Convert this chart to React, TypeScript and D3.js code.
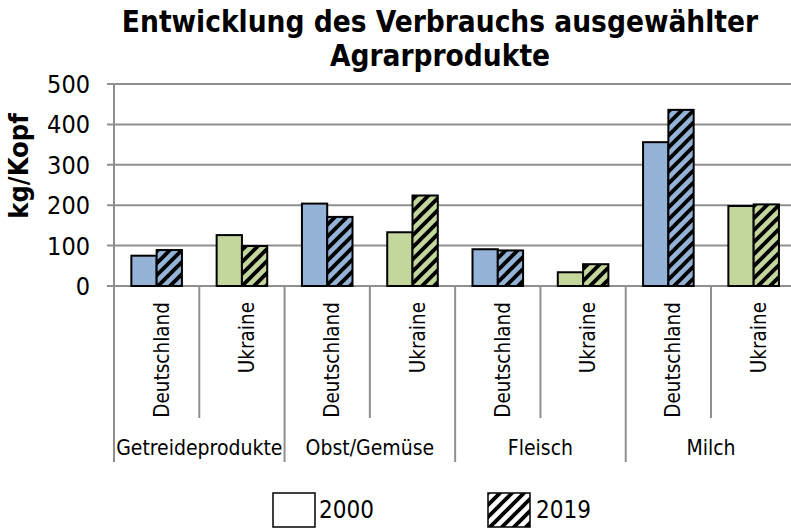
import React from "react";
import * as d3 from "d3";

const groups = ["Getreideprodukte", "Obst/Gemüse", "Fleisch", "Milch"];
const countries = ["Deutschland", "Ukraine"];
const years = ["2000", "2019"];
const values2000 = [75, 126, 204, 133, 91, 34, 356, 198];
const values2019 = [89, 99, 171, 224, 88, 54, 436, 202];
const yTicks = [0, 100, 200, 300, 400, 500];
const countryColors = ["#95B3D7", "#C3D69B"];

const W = 791;
const H = 528;
const FONT = "'DejaVu Sans Condensed', 'Liberation Sans', sans-serif";

export default function App() {
  const slots = groups.flatMap((g) => countries.map((c) => `${g}|${c}`));
  const x0 = d3.scaleBand<string>().domain(slots).range([114, 796.3]).paddingInner(0).paddingOuter(0);
  const x1 = d3.scaleBand<string>().domain(years).range([0, x0.bandwidth()]).paddingInner(0).paddingOuter(0.686);
  const y = d3.scaleLinear().domain([0, 500]).range([286, 84]);
  const gx = d3.scaleBand<string>().domain(groups).range([114, 796.3]);

  const series = [values2000, values2019];
  const grid = "#8f8f8f";

  return (
    <div style={{ position: "fixed", left: 0, top: 0 }}>
      <svg width={W} height={H} style={{ display: "block", background: "#fff" }}>
        <defs>
          {countryColors.map((col, i) => (
            <pattern key={i} id={`hatch${i}`} patternUnits="userSpaceOnUse" width={12} height={12}>
              <rect width={12} height={12} fill={col} />
              <path d="M-3,3 L3,-3 M0,12 L12,0 M9,15 L15,9" stroke="#000" strokeWidth={3.8} />
            </pattern>
          ))}
          <pattern id="hatchW" patternUnits="userSpaceOnUse" width={12} height={12} x={488} y={493}>
            <rect width={12} height={12} fill="#fff" />
            <path d="M-3,3 L3,-3 M0,12 L12,0 M9,15 L15,9" stroke="#000" strokeWidth={3.8} />
          </pattern>
        </defs>

        {/* title */}
        <text x={440} y={32} textAnchor="middle" fontFamily={FONT} fontWeight="bold" fontSize={29.5} fill="#000">
          Entwicklung des Verbrauchs ausgewählter
        </text>
        <text x={440} y={66} textAnchor="middle" fontFamily={FONT} fontWeight="bold" fontSize={29.5} fill="#000">
          Agrarprodukte
        </text>

        {/* y axis title */}
        <text
          transform={`translate(28,166) rotate(-90)`}
          textAnchor="middle"
          fontFamily={FONT}
          fontWeight="bold"
          fontSize={27}
          fill="#000"
        >
          kg/Kopf
        </text>

        {/* gridlines and ticks */}
        {yTicks.map((t) => (
          <g key={t}>
            <line x1={107} x2={W} y1={y(t)} y2={y(t)} stroke={grid} strokeWidth={2} />
            <text
              x={90}
              y={y(t)}
              dy="0.36em"
              textAnchor="end"
              fontFamily={FONT}
              fontSize={25}
              fill="#000"
            >
              {t}
            </text>
          </g>
        ))}
        <line x1={114} x2={114} y1={y(500)} y2={286} stroke={grid} strokeWidth={2} />

        {/* bars */}
        {slots.map((s, i) =>
          years.map((yr, j) => {
            const v = series[j][i];
            const ci = i % 2;
            return (
              <rect
                key={`${s}-${yr}`}
                x={(x0(s) as number) + (x1(yr) as number)}
                y={y(v)}
                width={x1.bandwidth()}
                height={y(0) - y(v)}
                fill={j === 0 ? countryColors[ci] : `url(#hatch${ci})`}
                stroke="#000"
                strokeWidth={2}
              />
            );
          })
        )}

        {/* category separators */}
        {slots.map((s, i) => {
          const xl = x0(s) as number;
          const isGroupStart = i % 2 === 0;
          return (
            <line
              key={`sep${s}`}
              x1={xl}
              x2={xl}
              y1={286}
              y2={isGroupStart ? 462 : 418}
              stroke={grid}
              strokeWidth={2}
            />
          );
        })}
        <line x1={796.3} x2={796.3} y1={286} y2={462} stroke={grid} strokeWidth={2} />

        {/* country labels */}
        {slots.map((s, i) => {
          const cx = (x0(s) as number) + x0.bandwidth() / 2 + 12;
          return (
            <text
              key={`lab${s}`}
              transform={`translate(${cx},302) rotate(-90)`}
              textAnchor="end"
              fontFamily={FONT}
              fontSize={20.5}
              fill="#000"
            >
              {countries[i % 2]}
            </text>
          );
        })}

        {/* group labels */}
        {groups.map((g) => (
          <text
            key={g}
            x={(gx(g) as number) + gx.bandwidth() / 2}
            y={455}
            textAnchor="middle"
            fontFamily={FONT}
            fontSize={21}
            fill="#000"
          >
            {g}
          </text>
        ))}

        {/* legend */}
        <rect x={273} y={493} width={42} height={34} fill="#fff" stroke="#000" strokeWidth={1.5} />
        <text x={319} y={518} fontFamily={FONT} fontSize={24} fill="#000">
          {years[0]}
        </text>
        <rect x={488} y={493} width={42} height={34} fill="url(#hatchW)" stroke="#000" strokeWidth={1.5} />
        <text x={536} y={518} fontFamily={FONT} fontSize={24} fill="#000">
          {years[1]}
        </text>
      </svg>
    </div>
  );
}
